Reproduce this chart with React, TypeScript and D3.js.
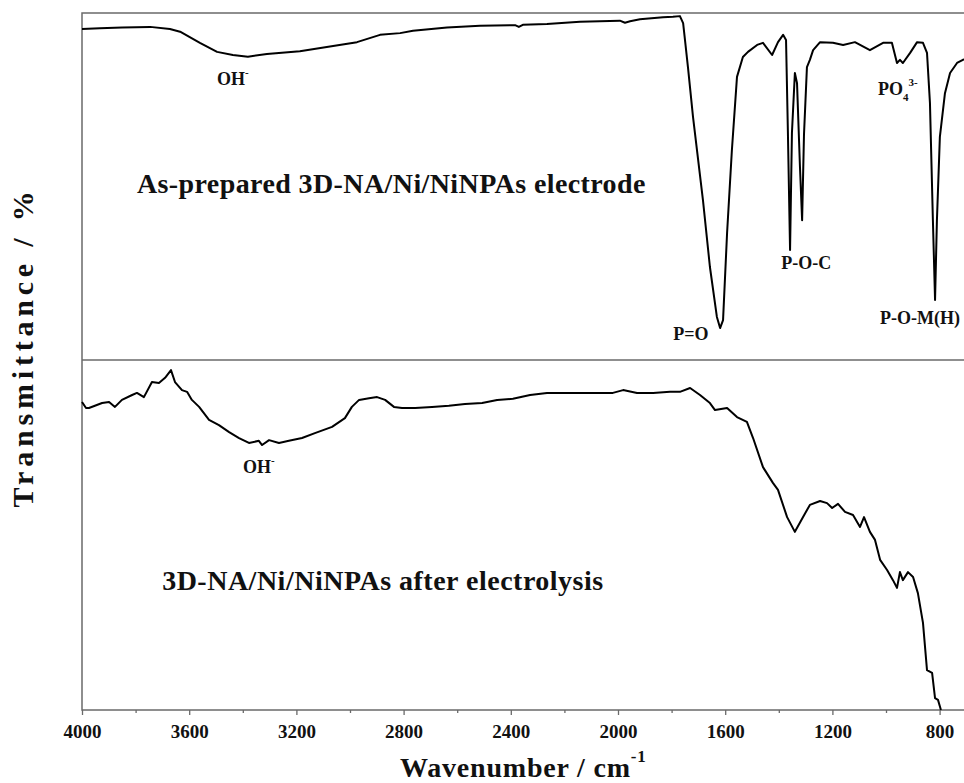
import React, { useEffect, useRef } from "react";
import * as d3 from "d3";

// wavenumber (cm-1), transmittance (a.u., 0-100 inside each panel)
const asPrepared: [number, number][] = [
  [4000, 95.4], [3933, 95.6], [3850, 95.8], [3746, 96.0], [3672, 95.4], [3634, 94.6],
  [3560, 91.4], [3496, 88.8], [3437, 87.9], [3381, 87.4], [3310, 88.2], [3187, 89.0],
  [3063, 90.5], [2974, 91.6], [2888, 93.7], [2813, 94.2], [2765, 94.9], [2638, 95.8],
  [2515, 96.3], [2384, 96.5], [2370, 96.0], [2355, 96.6], [2265, 96.8], [2142, 97.5],
  [1993, 97.8], [1974, 97.2], [1955, 97.6], [1918, 98.2], [1832, 98.8], [1795, 98.9],
  [1769, 99.1], [1757, 97.1], [1750, 92.2], [1739, 84.4], [1720, 70.0], [1683, 46.1],
  [1657, 26.8], [1631, 12.4], [1619, 9.2], [1608, 11.5], [1593, 36.6], [1575, 60.5],
  [1556, 81.6], [1534, 87.3], [1515, 88.8], [1481, 90.8], [1459, 91.4], [1425, 87.9],
  [1403, 91.6], [1384, 93.7], [1373, 92.2], [1366, 65.4], [1358, 31.7], [1351, 65.4],
  [1340, 82.7], [1332, 79.8], [1321, 55.6], [1313, 40.3], [1306, 65.0], [1295, 84.4],
  [1284, 86.5], [1272, 89.3], [1246, 91.6], [1198, 91.4], [1160, 90.8], [1116, 91.6],
  [1060, 89.3], [1011, 91.4], [978, 91.4], [959, 85.6], [948, 86.5], [937, 85.6],
  [910, 88.5], [884, 91.6], [862, 91.4], [847, 88.5], [836, 74.1], [825, 40.3],
  [817, 17.3], [810, 40.3], [799, 64.3], [780, 76.9], [761, 82.7], [735, 85.6],
  [713, 86.5], [687, 87.0],
];

const afterElectrolysis: [number, number][] = [
  [4000, 88.0], [3985, 86.3], [3974, 86.3], [3925, 87.7], [3899, 88.0], [3877, 86.6],
  [3851, 88.6], [3813, 90.0], [3795, 90.6], [3769, 89.4], [3739, 93.7], [3713, 93.4],
  [3690, 94.9], [3668, 97.1], [3653, 93.7], [3627, 91.4], [3608, 90.9], [3590, 88.6],
  [3563, 86.6], [3526, 82.9], [3489, 81.4], [3451, 79.4], [3414, 77.7], [3377, 76.3],
  [3340, 76.9], [3328, 75.7], [3302, 77.1], [3265, 76.3], [3228, 76.9], [3179, 77.7],
  [3131, 79.1], [3067, 80.9], [3019, 83.4], [2993, 86.6], [2966, 88.6], [2929, 89.1],
  [2899, 89.4], [2869, 88.6], [2836, 86.6], [2806, 86.3], [2757, 86.3], [2694, 86.6],
  [2631, 86.9], [2571, 87.4], [2507, 87.7], [2451, 88.6], [2392, 88.9], [2328, 90.0],
  [2265, 90.6], [2205, 90.6], [2142, 90.6], [2078, 90.6], [2019, 90.6], [1981, 91.4],
  [1929, 90.6], [1869, 90.6], [1806, 90.9], [1769, 90.9], [1731, 92.0], [1694, 90.0],
  [1657, 87.7], [1638, 85.7], [1593, 86.3], [1556, 83.7], [1519, 82.3], [1496, 77.7],
  [1459, 69.4], [1422, 64.9], [1403, 62.9], [1369, 55.1], [1340, 50.9], [1310, 55.1],
  [1284, 58.6], [1246, 59.7], [1220, 59.1], [1201, 57.7], [1179, 58.9], [1153, 56.6],
  [1123, 55.7], [1097, 52.3], [1082, 55.1], [1060, 50.9], [1041, 48.6], [1022, 42.9],
  [996, 40.0], [974, 37.1], [959, 34.9], [948, 39.4], [937, 37.1], [918, 39.4],
  [899, 38.0], [881, 33.4], [862, 24.9], [847, 11.4], [828, 10.6], [817, 3.4],
  [806, 2.9], [795, 0],
];

const majorTicks = [4000, 3600, 3200, 2800, 2400, 2000, 1600, 1200, 800];
const minorTicks = [3800, 3400, 3000, 2600, 2200, 1800, 1400, 1000];

// [text, sub, sup, wavenumber, value, anchor]
const topLabels: [string, string, string, number, number, string][] = [
  ["OH", "", "-", 3437, 79.3, "middle"],
  ["P=O", "", "", 1728, 5.8, "middle"],
  ["P-O-C", "", "", 1298, 26.2, "middle"],
  ["PO", "4", "3-", 1030, 76.4, "start"],
  ["P-O-M(H)", "", "", 1022, 10.4, "start"],
];
const bottomLabels: [string, string, string, number, number, string][] = [
  ["OH", "", "-", 3340, 67.7, "middle"],
];
const topTitle = ["As-prepared 3D-NA/Ni/NiNPAs electrode", 3795, 48.1] as const;
const bottomTitle = ["3D-NA/Ni/NiNPAs after electrolysis", 3701, 34.3] as const;

const FONT = "'Liberation Serif', 'Times New Roman', serif";

const App = () => {
  const ref = useRef<SVGSVGElement>(null);

  useEffect(() => {
    const svg = d3.select(ref.current);
    svg.selectAll("*").remove();

    const left = 82, top = 13, mid = 360, bottom = 710;
    const x = d3.scaleLinear().domain([4000, 650]).range([left, left + 3350 * 0.268]);
    const yTop = d3.scaleLinear().domain([0, 100]).range([mid, top]);
    const yBot = d3.scaleLinear().domain([0, 100]).range([bottom, mid]);

    // frame
    svg.append("rect")
      .attr("x", left).attr("y", top)
      .attr("width", x(650) - left).attr("height", bottom - top)
      .attr("fill", "none").attr("stroke", "#6a6a6a").attr("stroke-width", 1.5);
    svg.append("line")
      .attr("x1", left).attr("x2", x(650)).attr("y1", mid).attr("y2", mid)
      .attr("stroke", "#6a6a6a").attr("stroke-width", 1.5);

    // x axis
    const gMajor = svg.append("g").attr("transform", `translate(0,${bottom})`)
      .call(d3.axisBottom(x).tickValues(majorTicks).tickSize(5).tickPadding(10).tickFormat(d3.format("d")));
    gMajor.select(".domain").remove();
    gMajor.selectAll("line").attr("stroke", "#6a6a6a").attr("stroke-width", 1.3);
    gMajor.selectAll("text")
      .attr("font-family", FONT).attr("font-weight", "bold").attr("font-size", 19).attr("fill", "#111");

    const gMinor = svg.append("g").attr("transform", `translate(0,${bottom})`)
      .call(d3.axisBottom(x).tickValues(minorTicks).tickSize(3).tickFormat(() => ""));
    gMinor.select(".domain").remove();
    gMinor.selectAll("line").attr("stroke", "#6a6a6a").attr("stroke-width", 1.3);

    // spectra
    const lineTop = d3.line<[number, number]>().x((d) => x(d[0])).y((d) => yTop(d[1])).curve(d3.curveLinear);
    const lineBot = d3.line<[number, number]>().x((d) => x(d[0])).y((d) => yBot(d[1])).curve(d3.curveLinear);

    svg.append("path").datum(asPrepared)
      .attr("fill", "none").attr("stroke", "#000").attr("stroke-width", 2)
      .attr("stroke-linejoin", "round").attr("d", lineTop);
    svg.append("path").datum(afterElectrolysis)
      .attr("fill", "none").attr("stroke", "#000").attr("stroke-width", 2)
      .attr("stroke-linejoin", "round").attr("d", lineBot);

    // peak labels
    const drawLabels = (labels: typeof topLabels, y: d3.ScaleLinear<number, number>) => {
      labels.forEach(([t, sub, sup, w, v, anchor]) => {
        const txt = svg.append("text")
          .attr("x", x(w)).attr("y", y(v))
          .attr("text-anchor", anchor)
          .attr("font-family", FONT).attr("font-weight", "bold").attr("font-size", 18).attr("fill", "#111");
        txt.append("tspan").text(t);
        if (sub) txt.append("tspan").attr("font-size", 11).attr("dy", 6).text(sub);
        if (sup) txt.append("tspan").attr("font-size", 11).attr("dy", sub ? -15 : -9).text(sup);
      });
    };
    drawLabels(topLabels, yTop);
    drawLabels(bottomLabels, yBot);

    svg.append("text")
      .attr("x", x(topTitle[1])).attr("y", yTop(topTitle[2]))
      .attr("font-family", FONT).attr("font-weight", "bold").attr("font-size", 28).attr("fill", "#111")
      .attr("letter-spacing", 0.4)
      .text(topTitle[0]);
    svg.append("text")
      .attr("x", x(bottomTitle[1])).attr("y", yBot(bottomTitle[2]))
      .attr("font-family", FONT).attr("font-weight", "bold").attr("font-size", 28).attr("fill", "#111")
      .attr("letter-spacing", 0.5)
      .text(bottomTitle[0]);

    // axis titles
    const xt = svg.append("text")
      .attr("x", 400).attr("y", 777)
      .attr("font-family", FONT).attr("font-weight", "bold").attr("font-size", 28).attr("fill", "#111")
      .attr("letter-spacing", 0.8);
    xt.append("tspan").text("Wavenumber / cm");
    xt.append("tspan").attr("font-size", 17).attr("dy", -15).text("-1");

    svg.append("text")
      .attr("transform", `translate(33,347) rotate(-90)`)
      .attr("text-anchor", "middle")
      .attr("font-family", FONT).attr("font-weight", "bold").attr("font-size", 30).attr("fill", "#111")
      .attr("letter-spacing", 4.8)
      .text("Transmittance / %");
  }, []);

  return (
    <svg
      ref={ref}
      width={964}
      height={783}
      style={{ position: "absolute", left: 0, top: 0, background: "#fff" }}
    />
  );
};

export default App;
